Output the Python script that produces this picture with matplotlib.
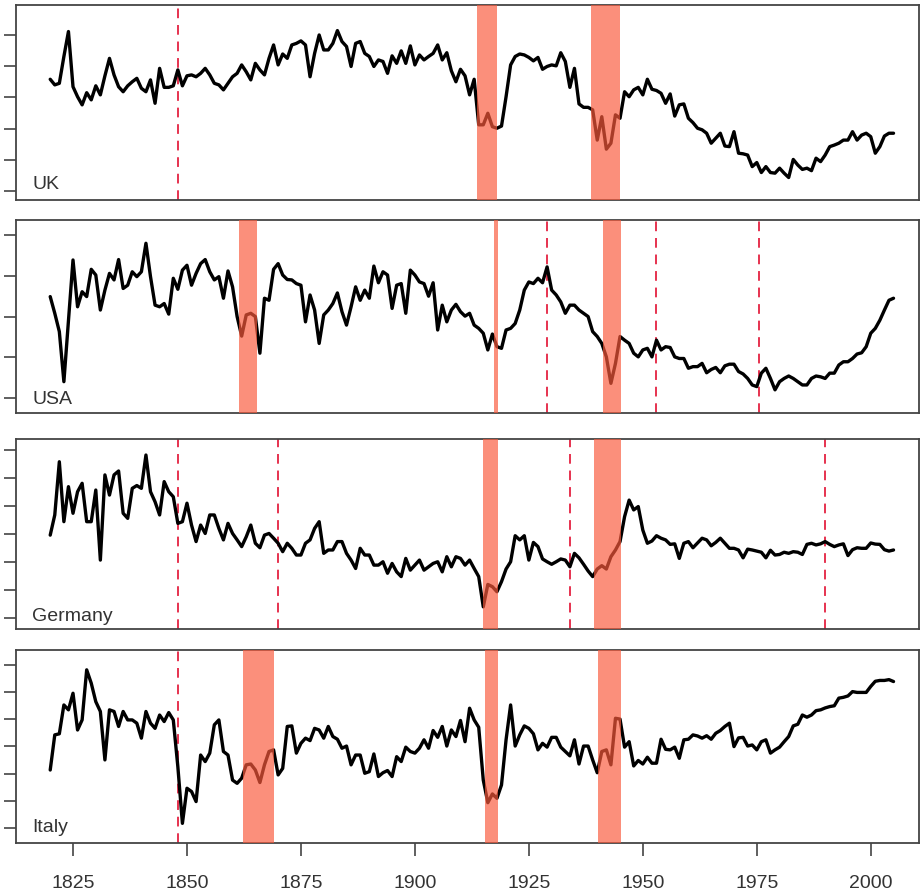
import numpy as np
import matplotlib
matplotlib.use("Agg")
import matplotlib.pyplot as plt

plt.rcParams['font.family'] = ['Liberation Sans', 'DejaVu Sans']

years = np.arange(1820, 2006)

# values, in units of the panel's y tick spacing (bottom tick = 0)
uk = [3.58, 3.40, 3.45, 4.31, 5.11, 3.34, 3.02, 2.76, 3.15, 2.92,
      3.37, 3.08, 3.69, 4.25, 3.72, 3.34, 3.18, 3.37, 3.50, 3.61,
      3.29, 3.18, 3.56, 2.81, 3.93, 3.32, 3.32, 3.37, 3.88, 3.37,
      3.69, 3.72, 3.66, 3.77, 3.93, 3.72, 3.45, 3.40, 3.24, 3.45,
      3.66, 3.77, 4.04, 3.82, 3.56, 4.09, 3.88, 3.72, 4.25, 4.68,
      4.04, 4.39, 4.25, 4.68, 4.73, 4.81, 4.68, 3.66, 4.41, 5.00,
      4.52, 4.52, 4.73, 5.14, 4.79, 4.63, 3.99, 4.73, 4.79, 4.41,
      4.31, 3.99, 4.20, 4.15, 3.77, 4.33, 4.09, 4.49, 4.09, 4.65,
      4.04, 4.36, 4.20, 4.31, 4.41, 4.68, 4.20, 4.43, 3.85, 3.50,
      3.90, 3.69, 3.08, 3.58, 2.12, 2.12, 2.49, 2.06, 2.01, 2.08,
      3.02, 4.04, 4.31, 4.39, 4.36, 4.28, 4.17, 4.28, 3.90, 3.99,
      4.04, 4.01, 4.43, 4.15, 3.32, 3.93, 2.79, 2.68, 2.68, 2.60,
      1.63, 2.38, 1.34, 1.53, 2.44, 2.33, 3.18, 3.02, 3.24, 3.32,
      3.08, 3.58, 3.26, 3.22, 3.13, 2.81, 3.11, 2.40, 2.76, 2.79,
      2.33, 2.19, 2.01, 1.96, 1.85, 1.53, 1.69, 1.85, 1.44, 1.42,
      1.90, 1.21, 1.19, 1.15, 0.78, 0.91, 0.59, 0.78, 0.59, 0.57,
      0.73, 0.57, 0.43, 1.01, 0.83, 0.69, 0.73, 0.65, 1.05, 0.94,
      1.15, 1.42, 1.47, 1.53, 1.63, 1.63, 1.90, 1.63, 1.79, 1.85,
      1.74, 1.21, 1.42, 1.76, 1.85, 1.85]

usa = [2.49, 2.08, 1.63, 0.40, 1.91, 3.39, 2.24, 2.61, 2.49, 3.16,
       3.02, 2.16, 2.65, 3.06, 2.90, 3.40, 2.69, 2.77, 3.10, 2.98,
       3.10, 3.80, 2.98, 2.28, 2.24, 2.32, 2.06, 2.94, 2.67, 3.14,
       3.26, 2.77, 3.06, 3.30, 3.40, 3.10, 2.90, 2.98, 2.45, 3.12,
       2.73, 2.00, 1.52, 2.04, 2.08, 2.00, 1.10, 2.45, 2.40, 3.16,
       3.30, 3.02, 2.91, 2.90, 2.81, 2.77, 1.87, 2.53, 2.16, 1.34,
       2.04, 2.16, 2.32, 2.58, 2.12, 1.79, 2.24, 2.73, 2.40, 2.65,
       2.45, 3.24, 2.83, 3.10, 3.02, 2.20, 2.77, 2.81, 2.08, 3.14,
       3.02, 2.85, 2.81, 2.50, 2.83, 1.67, 2.28, 1.87, 2.16, 2.30,
       2.12, 2.01, 2.08, 1.79, 1.71, 1.59, 1.18, 1.57, 1.26, 1.22,
       1.67, 1.71, 1.83, 2.16, 2.65, 2.85, 2.81, 2.94, 2.83, 3.22,
       2.65, 2.53, 2.36, 2.08, 2.28, 2.28, 2.16, 2.08, 2.00, 1.63,
       1.51, 1.34, 1.01, 0.36, 0.85, 1.51, 1.42, 1.34, 1.10, 1.01,
       1.18, 1.22, 1.01, 1.42, 1.18, 1.26, 1.24, 1.01, 0.97, 0.97,
       0.73, 0.77, 0.77, 0.85, 0.62, 0.70, 0.75, 0.62, 0.79, 0.83,
       0.83, 0.65, 0.59, 0.48, 0.32, 0.28, 0.61, 0.73, 0.48, 0.20,
       0.40, 0.48, 0.54, 0.48, 0.40, 0.32, 0.32, 0.48, 0.54, 0.52,
       0.48, 0.61, 0.61, 0.81, 0.89, 0.89, 0.97, 1.08, 1.11, 1.26,
       1.59, 1.71, 1.91, 2.16, 2.40, 2.45]

germany = [2.96, 3.68, 5.58, 3.44, 4.69, 3.74, 4.51, 4.81, 3.44, 3.44,
           4.57, 2.07, 5.11, 4.39, 5.11, 5.25, 3.74, 3.56, 4.63, 4.73,
           4.63, 5.82, 4.51, 4.15, 3.68, 4.87, 4.51, 4.33, 3.38, 3.44,
           4.10, 3.32, 2.73, 3.32, 3.02, 3.68, 3.68, 3.20, 2.79, 3.38,
           3.02, 2.79, 2.55, 2.90, 3.32, 2.67, 2.51, 2.96, 3.02, 2.85,
           2.67, 2.37, 2.67, 2.49, 2.25, 2.25, 2.67, 2.79, 3.20, 3.44,
           2.31, 2.43, 2.43, 2.73, 2.73, 2.31, 2.07, 1.77, 2.49, 2.25,
           2.25, 1.89, 1.89, 2.01, 1.60, 1.95, 1.65, 1.48, 2.13, 1.71,
           1.89, 2.07, 1.71, 1.83, 1.95, 2.01, 1.65, 2.19, 1.83, 2.19,
           2.13, 1.89, 2.07, 1.77, 1.48, 0.40, 1.20, 1.12, 0.94, 1.30,
           1.75, 2.01, 2.94, 2.79, 2.94, 2.07, 2.70, 2.55, 2.11, 2.01,
           1.92, 2.01, 2.11, 2.07, 1.83, 2.31, 2.15, 1.92, 1.68, 1.48,
           1.75, 1.87, 1.75, 2.19, 2.43, 2.73, 3.62, 4.21, 3.86, 3.98,
           3.14, 2.67, 2.75, 2.94, 2.85, 2.79, 2.63, 2.65, 2.13, 2.67,
           2.73, 2.51, 2.68, 2.85, 2.79, 2.58, 2.70, 2.85, 2.67, 2.49,
           2.49, 2.43, 2.15, 2.46, 2.43, 2.39, 2.35, 2.15, 2.42, 2.25,
           2.27, 2.35, 2.31, 2.37, 2.35, 2.27, 2.63, 2.67, 2.61, 2.65,
           2.73, 2.63, 2.55, 2.61, 2.65, 2.23, 2.44, 2.51, 2.49, 2.49,
           2.68, 2.64, 2.63, 2.44, 2.39, 2.43]

italy = [2.13, 3.42, 3.46, 4.52, 4.34, 4.95, 3.60, 3.97, 5.81, 5.32,
         4.64, 4.28, 2.50, 4.34, 4.28, 3.73, 4.28, 3.97, 3.97, 3.85,
         3.30, 4.28, 3.85, 3.66, 4.15, 3.91, 4.24, 3.97, 2.25, 0.17,
         1.46, 1.34, 0.97, 2.68, 2.44, 2.75, 3.79, 3.97, 2.81, 2.68,
         1.76, 1.64, 1.83, 2.32, 2.35, 2.13, 1.67, 2.32, 2.81, 2.87,
         1.95, 2.19, 3.73, 3.75, 2.75, 3.11, 3.30, 3.21, 3.66, 3.60,
         3.30, 3.73, 3.36, 3.26, 2.93, 3.01, 2.32, 2.68, 2.68, 2.01,
         2.07, 2.72, 1.89, 2.03, 2.11, 1.89, 2.62, 2.44, 2.97, 2.81,
         2.75, 2.93, 3.24, 2.93, 3.58, 3.33, 3.73, 3.01, 3.60, 3.36,
         3.95, 3.17, 4.40, 3.97, 3.70, 1.76, 0.93, 1.25, 1.09, 1.58,
         3.24, 4.52, 3.01, 3.42, 3.75, 3.66, 3.46, 2.87, 3.11, 2.97,
         3.33, 3.33, 2.97, 2.81, 2.65, 3.24, 2.35, 3.01, 3.01, 2.50,
         2.03, 2.81, 2.87, 2.32, 4.03, 4.00, 2.97, 3.17, 2.28, 2.48,
         2.35, 2.60, 2.38, 2.38, 3.26, 2.89, 2.87, 2.97, 2.56, 3.24,
         3.26, 3.42, 3.38, 3.30, 3.39, 3.26, 3.48, 3.58, 3.73, 3.85,
         2.99, 3.31, 3.33, 3.01, 3.05, 2.87, 3.17, 3.24, 2.75, 2.87,
         2.97, 3.17, 3.36, 3.75, 3.81, 4.15, 4.07, 4.15, 4.31, 4.34,
         4.41, 4.46, 4.49, 4.77, 4.80, 4.85, 5.01, 4.98, 4.98, 4.98,
         5.20, 5.39, 5.42, 5.42, 5.45, 5.38]

countries = ['UK', 'USA', 'Germany', 'Italy']
series = [uk, usa, germany, italy]

# shaded war periods and dashed event years
wars = {'UK': [(1913.6, 1918.0), (1938.6, 1945.0)],
        'USA': [(1861.4, 1865.3), (1917.4, 1918.3), (1941.3, 1945.2)],
        'Germany': [(1914.9, 1918.2), (1939.3, 1945.2)],
        'Italy': [(1862.4, 1869.1), (1915.4, 1918.3), (1940.2, 1945.2)]}
events = {'UK': [1848],
          'USA': [1929, 1953, 1975.5],
          'Germany': [1848, 1870, 1934, 1990],
          'Italy': [1848]}
n_ticks = {'UK': 6, 'USA': 5, 'Germany': 7, 'Italy': 7}
ylims = {'UK': (-0.29, 5.96), 'USA': (-0.37, 4.37),
         'Germany': (-0.39, 6.39), 'Italy': (-0.55, 6.54)}
label_y = {'UK': 0.08, 'USA': 0.07, 'Germany': 0.065, 'Italy': 0.08}

# axes boxes [left, bottom, width, height] in figure fractions
boxes = [[0.0174, 0.7768, 0.980, 0.2176],
         [0.0174, 0.5390, 0.980, 0.2154],
         [0.0174, 0.2980, 0.980, 0.2120],
         [0.0174, 0.0592, 0.980, 0.2154]]

fig = plt.figure(figsize=(9.21, 8.96), dpi=100)
frame_col = '#444444'

for i, (name, vals) in enumerate(zip(countries, series)):
    ax = fig.add_axes(boxes[i])
    ax.plot(years, vals, color='black', lw=2.4, zorder=2,
            solid_joinstyle='round', solid_capstyle='round')
    for a, b in wars[name]:
        ax.axvspan(a, b, color='#fa5a3c', alpha=0.68, lw=0, zorder=3)
    for yr in events[name]:
        ax.axvline(yr, color='#e6324f', lw=1.4, dashes=(5, 3.5), zorder=1)
    ax.set_xlim(1812.5, 2010.5)
    ax.set_ylim(*ylims[name])
    ax.set_yticks(range(n_ticks[name]))
    ax.set_yticklabels([])
    ax.tick_params(axis='y', length=9, width=1.2, color=frame_col)
    if i < 3:
        ax.set_xticks([])
    else:
        ax.set_xticks(np.arange(1825, 2001, 25))
        ax.tick_params(axis='x', length=9, width=1.2, color=frame_col,
                       labelsize=14, labelcolor='#333333', pad=14)
    for sp in ax.spines.values():
        sp.set_color(frame_col)
        sp.set_linewidth(1.3)
    ax.text(0.018, label_y[name], name, transform=ax.transAxes,
            fontsize=14, color='#333333', va='center', ha='left')

fig.savefig('out.png', dpi=100)
